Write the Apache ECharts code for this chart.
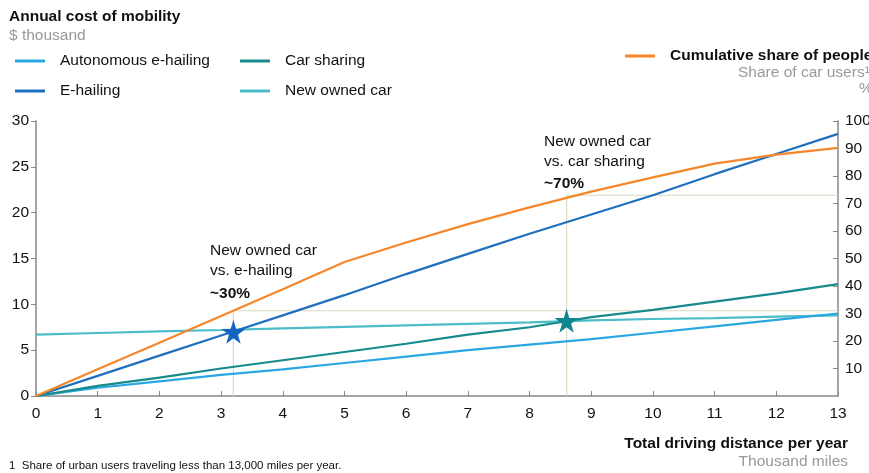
<!DOCTYPE html>
<html>
<head>
<meta charset="utf-8">
<script src="https://cdn.jsdelivr.net/npm/echarts@6/dist/echarts.min.js"></script>
<style>
html, body { margin: 0; padding: 0; background: #fff; }
#chart { width: 869px; height: 473px; }
</style>
</head>
<body>
<div id="chart"></div>
<script>
// distance, thousand miles
var distance = [0, 1, 2, 3, 4, 5, 6, 7, 8, 9, 10, 11, 12, 13];
// annual cost, $ thousand
var autonomousEHailing = [0, 0.9, 1.6, 2.3, 2.9, 3.6, 4.3, 5.0, 5.6, 6.2, 6.9, 7.6, 8.3, 9.0];
var eHailing = [0, 2.2, 4.4, 6.6, 8.8, 11.0, 13.3, 15.5, 17.7, 19.8, 21.9, 24.2, 26.4, 28.6];
var carSharing = [0, 1.1, 2.0, 3.0, 3.9, 4.8, 5.7, 6.7, 7.5, 8.6, 9.4, 10.3, 11.2, 12.2];
var newOwnedCar = [6.7, 6.87, 7.04, 7.2, 7.37, 7.54, 7.7, 7.87, 8.04, 8.25, 8.4, 8.5, 8.65, 8.8];
// cumulative share of people, %
var cumulativeShare = [0, 9.7, 19.4, 29.1, 38.8, 48.7, 55.8, 62.5, 68.6, 74.3, 79.5, 84.5, 87.8, 90.2];

// break-even points and their guide lines
var starEHailing = [3.2, 7.0];
var starCarSharing = [8.6, 8.2];
var guide30 = [[3.2, 0], [3.2, 31], [13, 31]];
var guide70 = [[8.6, 0], [8.6, 73], [13, 73]];

function pairs(ys) {
	return distance.map(function (x, i) { return [x, ys[i]]; });
}

var FONT = 'Liberation Sans, Arial, sans-serif';
var FS = 15.5;
var starPath = 'path://M50,0 L61,35 L98,35 L68,57 L79,91 L50,70 L21,91 L32,57 L2,35 L39,35 Z';
var guideColor = '#d9d9c6';

var chart = echarts.init(document.getElementById('chart'));

function legendAt(name, left, top, bold) {
	return {
		data: [name],
		left: left,
		top: top,
		icon: 'rect',
		itemWidth: 30,
		itemHeight: 3,
		padding: 0,
		selectedMode: false,
		textStyle: {
			fontFamily: FONT,
			fontSize: FS,
			fontWeight: bold ? 'bold' : 'normal',
			color: '#111',
			padding: [0, 0, 0, 10]
		}
	};
}

var lineBase = {
	type: 'line',
	symbol: 'none',
	smooth: false,
	z: 3
};

var option = {
	animation: false,
	textStyle: { fontFamily: FONT },
	legend: [
		legendAt('Autonomous e-hailing', 15, 53),
		legendAt('Car sharing', 240, 53),
		legendAt('E-hailing', 15, 83),
		legendAt('New owned car', 240, 83),
		legendAt('Cumulative share of people', 625, 48, true)
	],
	grid: {
		left: 36,
		right: 31,
		top: 121,
		bottom: 77,
		outerBoundsMode: 'none'
	},
	xAxis: {
		type: 'value',
		min: 0,
		max: 13,
		interval: 1,
		axisLine: { lineStyle: { color: '#888', width: 1.5 } },
		axisTick: { inside: true, length: 5, lineStyle: { color: '#888' } },
		axisLabel: { color: '#111', fontSize: FS, margin: 10 },
		splitLine: { show: false }
	},
	yAxis: [{
		type: 'value',
		min: 0,
		max: 30,
		interval: 5,
		axisLine: { show: true, lineStyle: { color: '#888', width: 1.5 } },
		axisTick: { show: true, length: 5, lineStyle: { color: '#888' } },
		axisLabel: { color: '#111', fontSize: FS, margin: 7 },
		splitLine: { show: false }
	}, {
		type: 'value',
		position: 'right',
		min: 0,
		max: 100,
		interval: 10,
		axisLine: { show: true, lineStyle: { color: '#888', width: 1.5 } },
		axisTick: { show: true, inside: true, length: 5, lineStyle: { color: '#888' } },
		axisLabel: { color: '#111', fontSize: FS, margin: 7, showMinLabel: false },
		splitLine: { show: false }
	}],
	graphic: [
		{ type: 'text', left: 9, top: 9, style: { text: 'Annual cost of mobility', font: 'bold ' + FS + 'px ' + FONT, fill: '#111' } },
		{ type: 'text', left: 9, top: 28, style: { text: '$ thousand', font: FS + 'px ' + FONT, fill: '#999' } },
		{ type: 'text', left: 738, top: 65, style: { text: 'Share of car users\u00b9', font: FS + 'px ' + FONT, fill: '#999' } },
		{ type: 'text', left: 859, top: 81, style: { text: '%', font: FS + 'px ' + FONT, fill: '#999' } },
		{ type: 'text', left: 210, top: 241, style: { text: 'New owned car\nvs. e-hailing', font: FS + 'px ' + FONT, fill: '#111', lineHeight: 20 } },
		{ type: 'text', left: 210, top: 286, style: { text: '~30%', font: 'bold ' + FS + 'px ' + FONT, fill: '#111' } },
		{ type: 'text', left: 544, top: 132, style: { text: 'New owned car\nvs. car sharing', font: FS + 'px ' + FONT, fill: '#111', lineHeight: 20 } },
		{ type: 'text', left: 544, top: 176, style: { text: '~70%', font: 'bold ' + FS + 'px ' + FONT, fill: '#111' } },
		{ type: 'text', right: 21, top: 436, style: { text: 'Total driving distance per year', font: 'bold ' + FS + 'px ' + FONT, fill: '#111' } },
		{ type: 'text', right: 21, top: 454, style: { text: 'Thousand miles', font: FS + 'px ' + FONT, fill: '#999' } },
		{ type: 'text', left: 9, top: 460, style: { text: '1  Share of urban users traveling less than 13,000 miles per year.', font: '11.5px ' + FONT, fill: '#111' } }
	],
	series: [
		{
			name: 'guide30',
			type: 'line',
			yAxisIndex: 1,
			symbol: 'none',
			silent: true,
			lineStyle: { color: guideColor, width: 1.2 },
			data: guide30,
			z: 1
		},
		{
			name: 'guide70',
			type: 'line',
			yAxisIndex: 1,
			symbol: 'none',
			silent: true,
			lineStyle: { color: guideColor, width: 1.2 },
			data: guide70,
			z: 1
		},
		Object.assign({}, lineBase, {
			name: 'New owned car',
			color: '#4bbdc8',
			lineStyle: { width: 2.2 },
			data: pairs(newOwnedCar)
		}),
		Object.assign({}, lineBase, {
			name: 'Autonomous e-hailing',
			color: '#2aa7e3',
			lineStyle: { width: 2.2 },
			data: pairs(autonomousEHailing)
		}),
		Object.assign({}, lineBase, {
			name: 'Car sharing',
			color: '#178a8c',
			lineStyle: { width: 2.2 },
			data: pairs(carSharing)
		}),
		Object.assign({}, lineBase, {
			name: 'E-hailing',
			color: '#1f6fbf',
			lineStyle: { width: 2.2 },
			data: pairs(eHailing)
		}),
		Object.assign({}, lineBase, {
			name: 'Cumulative share of people',
			yAxisIndex: 1,
			color: '#f5872a',
			lineStyle: { width: 2.2 },
			data: pairs(cumulativeShare)
		}),
		{
			name: 'star1',
			type: 'scatter',
			symbol: starPath,
			symbolSize: 24,
			itemStyle: { color: '#1565c0', opacity: 1 },
			data: [starEHailing],
			z: 5
		},
		{
			name: 'star2',
			type: 'scatter',
			symbol: starPath,
			symbolSize: 24,
			itemStyle: { color: '#0f8590', opacity: 1 },
			data: [starCarSharing],
			z: 5
		}
	]
};

chart.setOption(option);
</script>
</body>
</html>
